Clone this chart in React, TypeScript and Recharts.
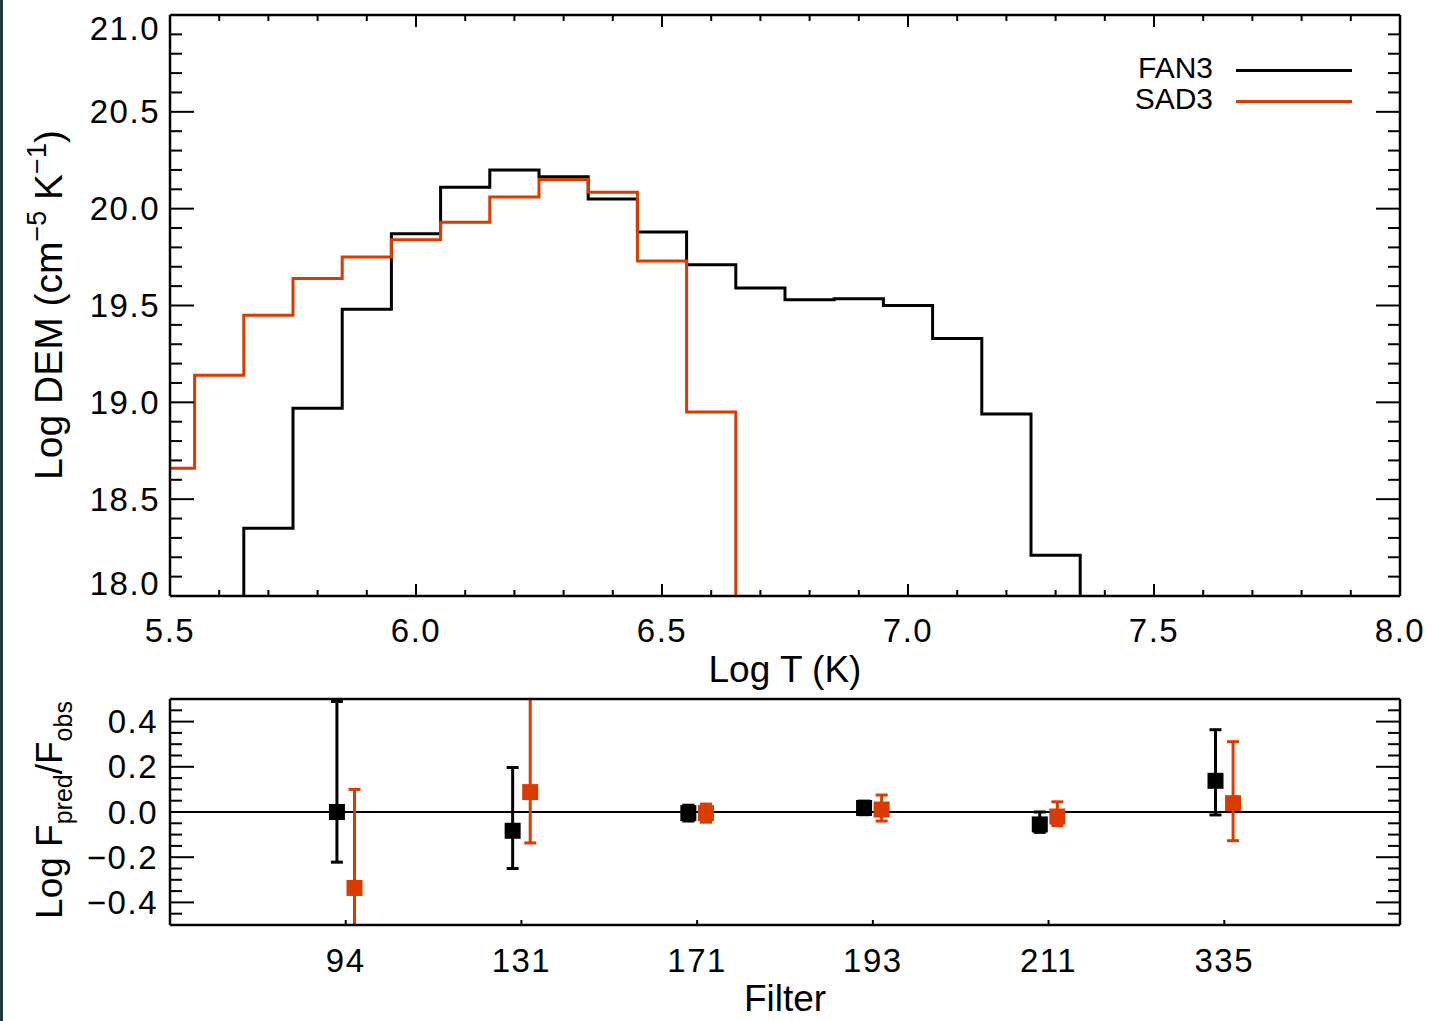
import React from "react";
import {
  LineChart,
  Line,
  ScatterChart,
  Scatter,
  XAxis,
  YAxis,
  ErrorBar,
  ReferenceLine,
  Legend,
} from "recharts";

const FONT = '"Liberation Sans", Arial, Helvetica, sans-serif';
const INK = "#000000";
const ORANGE = "#d93b00";

// ---- top panel: DEM histograms (value of the bin that starts at each edge) ----
const BIN_EDGES = [
  5.5, 5.55, 5.65, 5.75, 5.85, 5.95, 6.05, 6.15, 6.25, 6.35, 6.45, 6.55, 6.65, 6.75, 6.85, 6.95, 7.05,
  7.15, 7.25, 7.35,
];
const FAN3_DEM = [
  null, 17.0, 18.35, 18.97, 19.48, 19.87, 20.11, 20.2, 20.165, 20.05, 19.88, 19.71, 19.59, 19.53, 19.535,
  19.5, 19.33, 18.94, 18.21, 17.0,
];
const SAD3_DEM = [
  18.66, 19.14, 19.45, 19.64, 19.75, 19.84, 19.93, 20.06, 20.15, 20.085, 19.73, 18.95, 17.0, null, null,
  null, null, null, null, null,
];

const T_MAJOR = [5.5, 6.0, 6.5, 7.0, 7.5, 8.0];
const T_LABELS = ["5.5", "6.0", "6.5", "7.0", "7.5", "8.0"];
const DEM_MAJOR = [18.0, 18.5, 19.0, 19.5, 20.0, 20.5, 21.0];
const DEM_LABELS = ["18.0", "18.5", "19.0", "19.5", "20.0", "20.5", "21.0"];

// ---- bottom panel: flux ratios per filter ----
const FILTERS = ["94", "131", "171", "193", "211", "335"];
const FAN3_RATIO = [0.0, -0.083, -0.005, 0.018, -0.055, 0.138];
const FAN3_ERR_LOW = [0.222, 0.167, 0.035, 0.03, 0.035, 0.151];
const FAN3_ERR_HIGH = [0.489, 0.28, 0.035, 0.03, 0.055, 0.226];
const SAD3_RATIO = [-0.336, 0.088, -0.005, 0.011, -0.02, 0.039];
const SAD3_ERR_LOW = [0.3, 0.225, 0.04, 0.051, 0.04, 0.166];
const SAD3_ERR_HIGH = [0.436, 0.5, 0.04, 0.064, 0.065, 0.272];

const RATIO_MAJOR = [-0.4, -0.2, 0.0, 0.2, 0.4];
const RATIO_LABELS = ["\u22120.4", "\u22120.2", "0.0", "0.2", "0.4"];

function steps(from: number, to: number, step: number) {
  const out: number[] = [];
  const n = Math.round((to - from) / step);
  for (let i = 0; i <= n; i++) out.push(+(from + i * step).toFixed(4));
  return out;
}

const T_TICKS = steps(5.5, 8.0, 0.1);
const DEM_TICKS = steps(18.0, 21.0, 0.1);
const RATIO_TICKS = steps(-0.5, 0.5, 0.05);
const FILTER_TICKS = FILTERS.map((_, i) => i + 1);

const demData = BIN_EDGES.map((x, i) => ({ x, fan3: FAN3_DEM[i], sad3: SAD3_DEM[i] }));

const DODGE = 0.05;
const fanPoints = FILTERS.map((f, i) => ({
  x: i + 1 - DODGE,
  y: FAN3_RATIO[i],
  err: [FAN3_ERR_LOW[i], FAN3_ERR_HIGH[i]],
}));
const sadPoints = FILTERS.map((f, i) => ({
  x: i + 1 + DODGE,
  y: SAD3_RATIO[i],
  err: [SAD3_ERR_LOW[i], SAD3_ERR_HIGH[i]],
}));

// layout: both panels share the same plot left/right edges
const PLOT_LEFT = 170;
const PLOT_RIGHT = 1400;
const W = 1433;
const DEM_H = 700;
const DEM_TOP = 15;
const DEM_BOTTOM = 596;
const RATIO_Y = 680;
const RATIO_H = 341;
const RATIO_TOP = 19;
const RATIO_BOTTOM = 245;

const labelStyle = { fontFamily: FONT, fontSize: 33, fill: INK, letterSpacing: 1.5 };

const findMajor = (majors: number[], v: number) => majors.findIndex((m) => Math.abs(m - v) < 1e-6);

// tick renderers: inward tick marks, labels outside (end labels nudged inside the box, like IDL)
function leftTick(
  majors: number[],
  labels: string[],
  majorLen: number,
  minorLen: number,
  gap: number,
  yMin = -Infinity,
  yMax = Infinity
) {
  return (p: any) => {
    const k = findMajor(majors, p.payload.value);
    const ly = Math.min(yMax, Math.max(yMin, p.y));
    return (
      <g>
        <line x1={p.x} x2={p.x + (k >= 0 ? majorLen : minorLen)} y1={p.y} y2={p.y} stroke={INK} strokeWidth={2} />
        {k >= 0 && (
          <text x={p.x - gap} y={ly} textAnchor="end" dominantBaseline="central" style={labelStyle}>
            {labels[k]}
          </text>
        )}
      </g>
    );
  };
}

function rightTick(majors: number[], majorLen: number, minorLen: number) {
  return (p: any) => {
    const k = findMajor(majors, p.payload.value);
    return <line x1={p.x} x2={p.x - (k >= 0 ? majorLen : minorLen)} y1={p.y} y2={p.y} stroke={INK} strokeWidth={2} />;
  };
}

function bottomTick(majors: number[], labels: string[], majorLen: number, minorLen: number, gap: number) {
  return (p: any) => {
    const k = findMajor(majors, p.payload.value);
    return (
      <g>
        <line x1={p.x} x2={p.x} y1={p.y} y2={p.y - (k >= 0 ? majorLen : minorLen)} stroke={INK} strokeWidth={2} />
        {k >= 0 && (
          <text x={p.x} y={p.y + gap} textAnchor="middle" dominantBaseline="central" style={labelStyle}>
            {labels[k]}
          </text>
        )}
      </g>
    );
  };
}

function topTick(majors: number[], majorLen: number, minorLen: number) {
  return (p: any) => {
    const k = findMajor(majors, p.payload.value);
    return <line x1={p.x} x2={p.x} y1={p.y} y2={p.y + (k >= 0 ? majorLen : minorLen)} stroke={INK} strokeWidth={2} />;
  };
}

const frame = { stroke: INK, strokeWidth: 2.5 };
const axisCommon = { interval: 0 as const, tickSize: 0, tickMargin: 0, tickLine: false, axisLine: frame };

function DemLegend({ payload }: any) {
  return (
    <div style={{ fontFamily: FONT, fontSize: 30, lineHeight: "31px" }}>
      {(payload || []).map((e: any) => (
        <div key={e.value} style={{ display: "flex", alignItems: "center", height: 31 }}>
          <span style={{ width: 103, textAlign: "right", marginRight: 23, position: "relative", top: -3 }}>
            {e.value}
          </span>
          <span style={{ width: 116, height: 3, background: e.color, display: "inline-block" }} />
        </div>
      ))}
    </div>
  );
}

function DemChart() {
  return (
    <LineChart
      width={W}
      height={DEM_H}
      data={demData}
      margin={{ top: DEM_TOP - 1, right: W - PLOT_RIGHT - 1, bottom: DEM_H - DEM_BOTTOM - 1, left: PLOT_LEFT - 1 }}
    >
      <XAxis
        {...axisCommon}
        dataKey="x"
        type="number"
        domain={[5.5, 8.0]}
        allowDataOverflow
        ticks={T_TICKS}
        height={1}
        tick={bottomTick(T_MAJOR, T_LABELS, 12, 6, 34)}
      />
      <XAxis
        {...axisCommon}
        xAxisId="top"
        orientation="top"
        dataKey="x"
        type="number"
        domain={[5.5, 8.0]}
        allowDataOverflow
        ticks={T_TICKS}
        height={1}
        tick={topTick(T_MAJOR, 12, 6)}
      />
      <YAxis
        {...axisCommon}
        type="number"
        domain={[18, 21]}
        allowDataOverflow
        ticks={DEM_TICKS}
        width={1}
        tick={leftTick(DEM_MAJOR, DEM_LABELS, 24, 12, 10, DEM_TOP + 13, DEM_BOTTOM - 13)}
      />
      <YAxis
        {...axisCommon}
        yAxisId="right"
        orientation="right"
        type="number"
        domain={[18, 21]}
        allowDataOverflow
        ticks={DEM_TICKS}
        width={1}
        tick={rightTick(DEM_MAJOR, 24, 12)}
      />
      <Legend
        layout="vertical"
        align="center"
        verticalAlign="middle"
        content={(props: any) => <DemLegend payload={props.payload} />}
        wrapperStyle={{ position: "absolute", top: 55, left: 1110, width: 260 }}
      />
      <Line
        name="FAN3"
        dataKey="fan3"
        type="stepAfter"
        stroke={INK}
        strokeWidth={3}
        dot={false}
        activeDot={false}
        isAnimationActive={false}
      />
      <Line
        name="SAD3"
        dataKey="sad3"
        type="stepAfter"
        stroke={ORANGE}
        strokeWidth={3}
        dot={false}
        activeDot={false}
        isAnimationActive={false}
      />
    </LineChart>
  );
}

const square = (color: string) => (p: any) => <rect x={p.cx - 8} y={p.cy - 8} width={16} height={16} fill={color} />;

function RatioChart() {
  return (
    <ScatterChart
      width={W}
      height={RATIO_H}
      margin={{ top: RATIO_TOP - 1, right: W - PLOT_RIGHT - 1, bottom: RATIO_H - RATIO_BOTTOM - 1, left: PLOT_LEFT - 1 }}
    >
      <XAxis
        {...axisCommon}
        dataKey="x"
        type="number"
        domain={[0, 7]}
        ticks={FILTER_TICKS}
        height={1}
        tick={bottomTick(FILTER_TICKS, FILTERS, 5, 5, 35)}
      />
      <XAxis
        {...axisCommon}
        xAxisId="top"
        orientation="top"
        dataKey="x"
        type="number"
        domain={[0, 7]}
        ticks={FILTER_TICKS}
        height={1}
        tick={topTick(FILTER_TICKS, 5, 5)}
      />
      <YAxis
        {...axisCommon}
        dataKey="y"
        type="number"
        domain={[-0.5, 0.5]}
        allowDataOverflow
        ticks={RATIO_TICKS}
        width={1}
        tick={leftTick(RATIO_MAJOR, RATIO_LABELS, 24, 12, 12)}
      />
      <YAxis
        {...axisCommon}
        yAxisId="right"
        orientation="right"
        dataKey="y"
        type="number"
        domain={[-0.5, 0.5]}
        allowDataOverflow
        ticks={RATIO_TICKS}
        width={1}
        tick={rightTick(RATIO_MAJOR, 24, 12)}
      />
      <ReferenceLine y={0} stroke={INK} strokeWidth={2} />
      <Scatter name="FAN3" data={fanPoints} shape={square(INK)} isAnimationActive={false}>
        <ErrorBar dataKey="err" direction="y" width={6} stroke={INK} strokeWidth={3} clipPath="url(#ratio-plot-clip)" />
      </Scatter>
      <Scatter name="SAD3" data={sadPoints} shape={square(ORANGE)} isAnimationActive={false}>
        <ErrorBar dataKey="err" direction="y" width={6} stroke={ORANGE} strokeWidth={3} clipPath="url(#ratio-plot-clip)" />
      </Scatter>
    </ScatterChart>
  );
}

export default function App() {
  const title = { fontFamily: FONT, fontSize: 37, fill: INK };
  return (
    <div style={{ position: "absolute", left: 0, top: 0, width: W, height: 1021, background: "#fff", overflow: "hidden" }}>
      <div style={{ position: "absolute", left: 0, top: 0, width: 3, height: 1021, background: "#1d3a3a" }} />
      <div style={{ position: "absolute", left: 0, top: 0 }}>
        <DemChart />
      </div>
      <div style={{ position: "absolute", left: 0, top: RATIO_Y }}>
        <RatioChart />
      </div>
      <svg width={W} height={1021} style={{ position: "absolute", left: 0, top: 0, pointerEvents: "none" }}>
        <defs>
          {/* plot box of the ratio panel, in that chart's own coordinates */}
          <clipPath id="ratio-plot-clip" clipPathUnits="userSpaceOnUse">
            <rect x={PLOT_LEFT} y={RATIO_TOP} width={PLOT_RIGHT - PLOT_LEFT} height={RATIO_BOTTOM - RATIO_TOP} />
          </clipPath>
        </defs>
        <text x={785} y={682} textAnchor="middle" style={title}>
          Log T (K)
        </text>
        <text x={785} y={1011} textAnchor="middle" style={title}>
          Filter
        </text>
        <text x={62} y={305} textAnchor="middle" transform="rotate(-90 62 305)" style={{ ...title, fontSize: 39 }}>
          Log DEM (cm
          <tspan dy={-16} fontSize={27}>
            {"\u22125"}
          </tspan>
          <tspan dy={16}> K</tspan>
          <tspan dy={-16} fontSize={27}>
            {"\u22121"}
          </tspan>
          <tspan dy={16}>)</tspan>
        </text>
        <text x={62} y={810} textAnchor="middle" transform="rotate(-90 62 810)" style={title}>
          Log F
          <tspan dy={10} fontSize={25}>
            pred
          </tspan>
          <tspan dy={-10}>/F</tspan>
          <tspan dy={10} fontSize={25}>
            obs
          </tspan>
        </text>
      </svg>
    </div>
  );
}
